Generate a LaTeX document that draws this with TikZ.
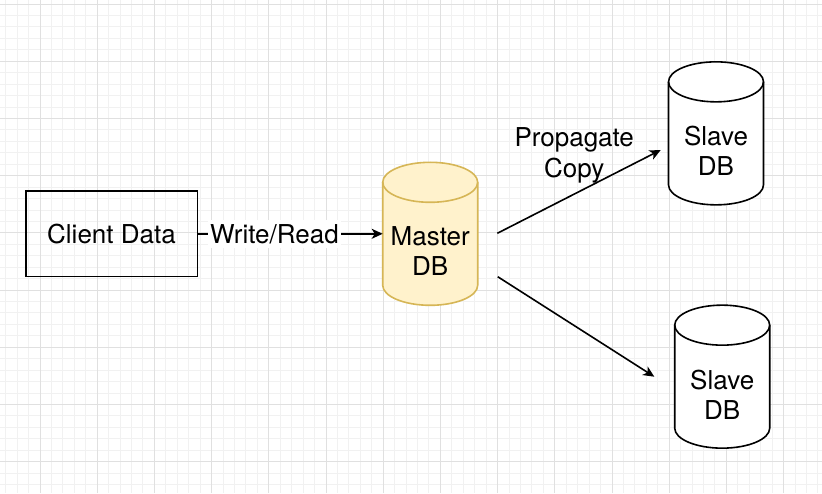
\documentclass[tikz,border=0pt]{standalone}
\usepackage{fontspec}
\setmainfont{TeX Gyre Heros}
\usetikzlibrary{arrows.meta}
\definecolor{gridmajor}{HTML}{E0E0E0}
\definecolor{gridminor}{HTML}{F1F1F1}
\definecolor{masterfill}{HTML}{FFF2CC}
\definecolor{masterline}{HTML}{D6B656}
\newcommand\drawdbshape[3]{%
  \path[fill=#2, draw=#3, line width=0.8pt, line join=round]
    ([yshift=-10pt]#1.north west) -- ([yshift=10pt]#1.south west)
    arc[start angle=180, end angle=360, x radius=23.75pt, y radius=10pt]
    -- ([yshift=-10pt]#1.north east)
    arc[start angle=0, end angle=180, x radius=23.75pt, y radius=10pt] -- cycle;
  \draw[draw=#3, line width=0.8pt] ([yshift=-10pt]#1.north west)
    arc[start angle=180, end angle=360, x radius=23.75pt, y radius=10pt];
}
\tikzset{
  every node/.style={font=\fontsize{13pt}{15.3pt}\selectfont, text=black},
  clientbox/.style={draw, line width=0.8pt, minimum width=85.8pt, minimum height=42.85pt, inner sep=0pt, outer sep=0pt},
  dbnode/.style={minimum width=47.5pt, minimum height=71.5pt, inner sep=0pt, outer sep=0pt},
  dblabel/.style={align=center, inner sep=0pt},
  flow/.style={-{Stealth[length=5.5pt,width=5pt,inset=1.5pt]}, line width=0.8pt},
  flowlabel/.style={fill=white, inner xsep=1pt, inner ysep=2pt},
  gridminorline/.style={draw=gridminor, line width=0.5pt},
  gridmajorline/.style={draw=gridmajor, line width=0.5pt},
}
\begin{document}
\begin{tikzpicture}[x=0.5pt, y=0.5pt]
  \useasboundingbox (0,0) rectangle (822,493);
  \fill[white] (0,0) rectangle (822,493);
  % grid
  \foreach \i in {0,...,71} {
    \draw[gridminorline] ({5.68+11.44*\i},0) -- ({5.68+11.44*\i},493);
  }
  \foreach \j in {0,...,42} {
    \draw[gridminorline] (0,{493-4.1-11.44*\j}) -- (822,{493-4.1-11.44*\j});
  }
  \foreach \i in {0,...,14} {
    \draw[gridmajorline] ({40+57.2*(\i-1)},0) -- ({40+57.2*(\i-1)},493);
  }
  \foreach \j in {0,...,8} {
    \draw[gridmajorline] (0,{493-4.1-57.2*\j}) -- (822,{493-4.1-57.2*\j});
  }

  % nodes
  \node[clientbox] (client) at (111.5,259.2) {Client Data};
  \node[dbnode] (master) at (430.2,259.2) {};
  \node[dbnode] (slaveA) at (716,359.65) {};
  \node[dbnode] (slaveB) at (722.2,116.35) {};

  \drawdbshape{master}{masterfill}{masterline}
  \drawdbshape{slaveA}{white}{black}
  \drawdbshape{slaveB}{white}{black}

  \node[dblabel] (masterText) at ([yshift=-8.6pt]master.center) {Master\\DB};
  \node[dblabel] (slaveAText) at ([yshift=-8.8pt]slaveA.center) {Slave\\DB};
  \node[dblabel] (slaveBText) at ([yshift=-9pt]slaveB.center) {Slave\\DB};
  \node[dblabel] (propagate) at (574.2,337.5) {Propagate\\Copy};

  % connectors
  \coordinate (repAstart) at (497.3,259.7);
  \coordinate (repAend) at (660.7,343);
  \coordinate (repBstart) at (497.7,216.3);
  \coordinate (repBend) at (654.3,116.3);

  \draw[flow] (client.east) -- node[flowlabel, pos=0.416] {Write/Read} (master.west);
  \draw[flow] (repAstart) -- (repAend);
  \draw[flow] (repBstart) -- (repBend);
\end{tikzpicture}
\end{document}
